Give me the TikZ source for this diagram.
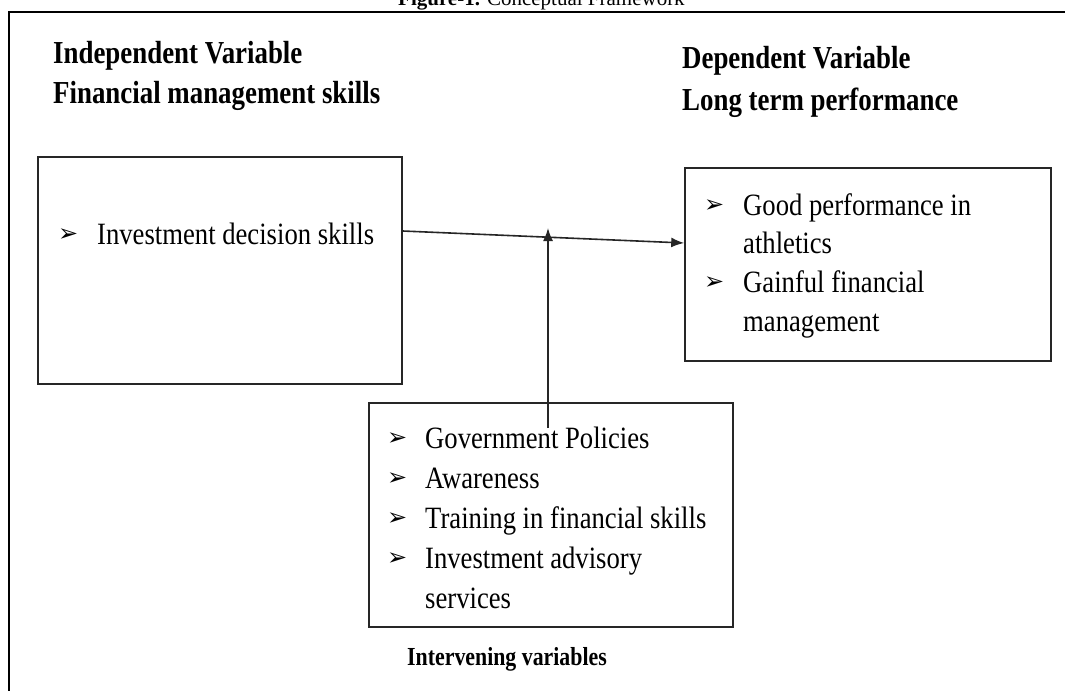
\documentclass[tikz,border=0pt]{standalone}
\usepackage{fontspec}
\setmainfont{Liberation Serif}
\newfontfamily\bodyfont[FakeStretch=0.86]{Liberation Serif}
\newfontfamily\headfont[FakeStretch=0.84]{Liberation Serif}
\newfontfamily\dvfont{DejaVu Sans}
\usetikzlibrary{arrows.meta}
\newcommand{\bul}[1]{\makebox[#1][l]{\raisebox{3pt}{\dvfont\fontsize{24}{24}\selectfont ➢}}}
\tikzset{
  boxst/.style={draw=black!85, line width=1.6pt, inner sep=0pt},
  txtst/.style={anchor=base west, inner sep=0pt, text=black, font=\bodyfont\fontsize{31}{40}\selectfont},
  headst/.style={anchor=base west, inner sep=0pt, text=black, font=\headfont\bfseries\fontsize{32}{40}\selectfont},
  subst/.style={anchor=base west, inner sep=0pt, text=black, font=\headfont\bfseries\fontsize{26}{30}\selectfont},
  captxt/.style={anchor=base west, inner sep=0pt, text=black, font=\fontsize{21}{24}\selectfont},
  framest/.style={draw=black, line width=2pt},
  arrst/.style={draw=black!85, line width=1.6pt, -{Latex[length=13pt,width=10pt]}}
}
\begin{document}
\begin{tikzpicture}[x=1pt,y=1pt]
\useasboundingbox (0,0) rectangle (1065,-691);
% caption and frame
\node[captxt] (caption) at (398,-5) {\textbf{Figure-1.} Conceptual Framework};
\coordinate (ftl) at (9,-12);
\coordinate (ftr) at (1065,-12);
\coordinate (fbl) at (9,-691);
\draw[framest] (ftr) -- (ftl) -- (fbl);
% headings
\node[headst] (ivt) at (53,-63) {Independent Variable};
\node[headst] (ivs) at (53,-103) {Financial management skills};
\node[headst] (dvt) at (682,-68) {Dependent Variable};
\node[headst] (dvs) at (682,-110) {Long term performance};
% boxes
\node[boxst, minimum width=364pt, minimum height=227pt] (lb) at (220,-270.5) {};
\node[boxst, minimum width=366pt, minimum height=193pt] (rb) at (868,-264.5) {};
\node[boxst, minimum width=364pt, minimum height=224pt] (bb) at (551,-515) {};
% left box text
\node[txtst] (l1) at (58,-244) {\bul{39pt}Investment decision skills};
% right box text
\node[txtst] (r1) at (704,-215) {\bul{39pt}Good performance in};
\node[txtst] (r2) at (743,-253) {athletics};
\node[txtst] (r3) at (704,-292) {\bul{39pt}Gainful financial};
\node[txtst] (r4) at (743,-331) {management};
% bottom box text
\node[txtst] (b1) at (387,-448) {\bul{38pt}Government Policies};
\node[txtst] (b2) at (387,-488) {\bul{38pt}Awareness};
\node[txtst] (b3) at (387,-528) {\bul{38pt}Training in financial skills};
\node[txtst] (b4) at (387,-568) {\bul{38pt}Investment advisory};
\node[txtst] (b5) at (425,-608) {services};
\node[subst] (iv) at (407,-665) {Intervening variables};
% connectors
\draw[arrst] ([yshift=39.5pt]lb.east) -- ([yshift=21.5pt]rb.west);
\coordinate (vs) at (548,-428);
\coordinate (vt) at (548,-228);
\draw[arrst] (vs) -- (vt);
\end{tikzpicture}
\end{document}
